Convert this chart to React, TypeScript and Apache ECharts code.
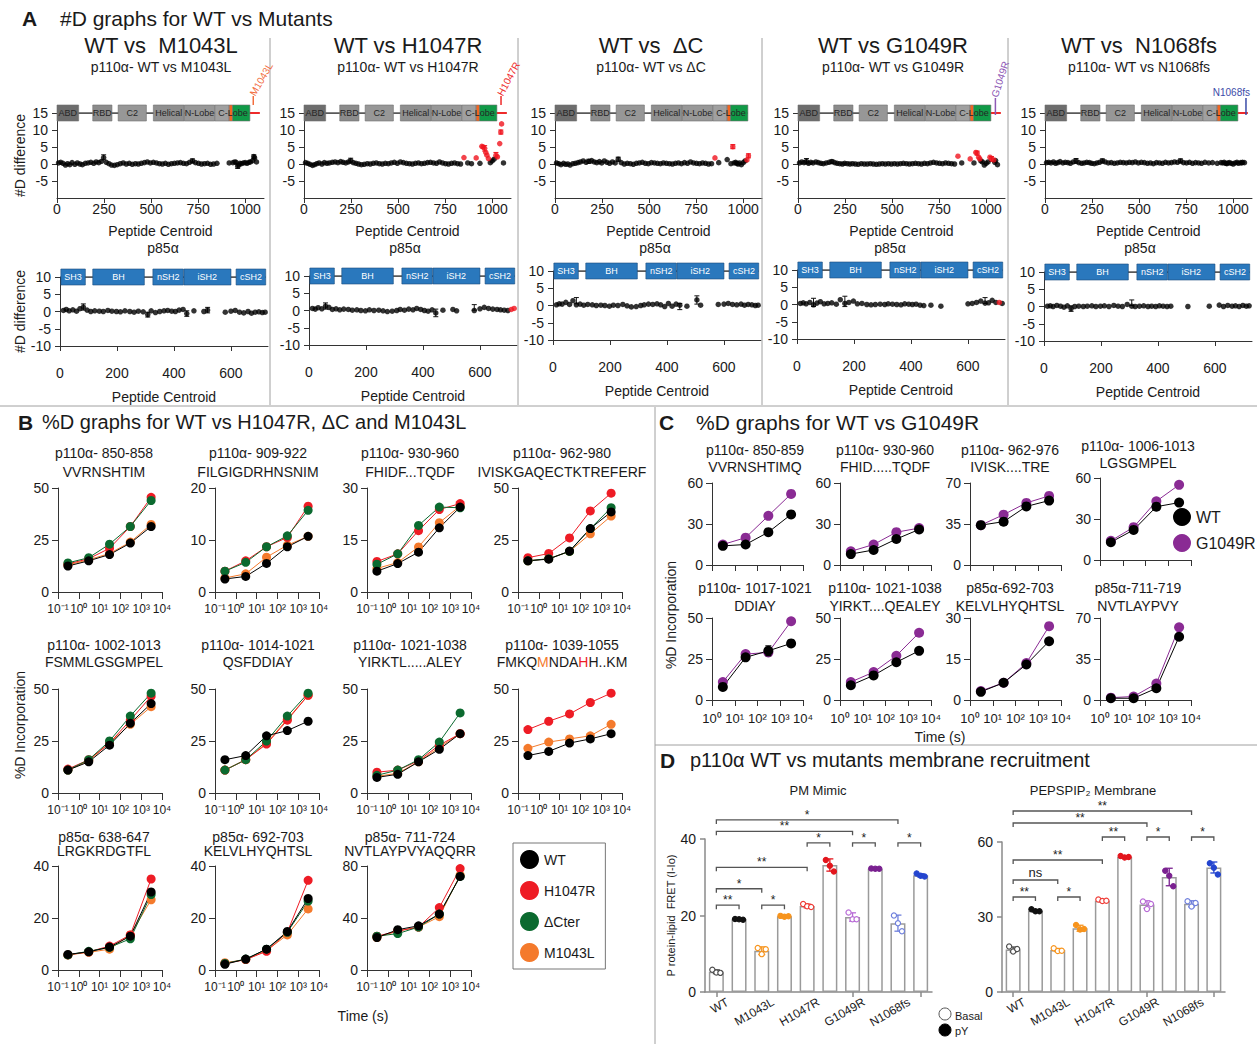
import React, { useEffect, useRef } from "react";
import * as echarts from "echarts";

const FF = "'Liberation Sans', Arial, Helvetica, sans-serif";
const fnt = (size: number, weight: string = "normal") => `${weight} ${size}px ${FF}`;

/* ============================ PANEL A DATA ============================ */
const p110TickValues = [0, 250, 500, 750, 1000];
const p110DiffTicks = [15, 10, 5, 0, -5];
const p85TickValues = [0, 200, 400, 600];
const p85DiffTicks = [10, 5, 0, -5, -10];

const p110Centroids = [
  8, 20, 32, 45, 56, 68, 80, 95, 108, 122,
  135, 150, 165, 180, 195, 208, 222, 236, 248, 262,
  276, 290, 305, 320, 336, 352, 368, 384, 400, 416,
  432, 448, 464, 480, 496, 512, 528, 544, 560, 576,
  592, 608, 624, 640, 656, 672, 688, 704, 720, 736,
  752, 768, 784, 800, 816, 832, 850, 870, 890, 915,
  935, 945, 952, 960, 966, 972, 980, 990, 1000, 1010,
  1020, 1028, 1040, 1046, 1050, 1060,
];
const p110DiffM1043L = [
  0.3, 0.5, 0.2, -0.3, 0.1, -0.2, 0.4, -0.1, 0.3, 0.0,
  -0.2, 0.2, 0.3, 0.5, 0.2, 0.6, 0.4, 0.8, 1.9, 0.5,
  0.1, -0.3, -0.4, -0.2, 0.1, 0.3, 0.0, 0.2, -0.1, 0.1,
  0.0, 0.2, 0.4, 0.6, 0.3, 0.5, 0.3, 0.1, 0.0, 0.2,
  -0.1, 0.1, 0.2, 0.3, 0.4, 0.2, 0.1, 0.5, 0.9, 0.4,
  0.2, 0.0, 0.1, 0.2, -0.1, 0.0, 0.2, null, null, 0.3,
  0.4, 0.6, 0.5, -0.6, -0.3, 0.2, 0.1, 0.3, 0.4, 0.2,
  0.5, 0.6, 1.0, 2.2, 1.8, 0.6,
];
const p110DiffH1047R = [
  0.4, 0.2, -0.1, -0.4, -0.2, 0.1, 0.3, 0.0, 0.4, 0.2,
  0.3, 0.5, 0.6, 0.4, 0.7, 0.5, 0.3, 0.6, 1.0, 0.4,
  0.2, 0.0, -0.2, -0.1, 0.1, 0.0, 0.2, 0.3, 0.1, 0.0,
  0.2, 0.1, 0.3, 0.5, 0.2, 0.6, 0.4, 0.2, 0.1, 0.0,
  0.2, 0.3, 0.1, 0.2, 0.4, 0.5, 0.3, 0.2, 0.6, 0.3,
  0.1, 0.0, 0.2, 0.3, 0.1, 0.0, 1.9, 0.3, 0.1, 1.8,
  0.2, 5.2, 5.0, 4.6, 3.4, 2.6, 1.6, 0.4, 0.9, 1.4,
  2.6, 2.1, 6.0, 9.4, 11.8, 0.3,
];
const p110DiffDeltaC = [
  0.3, 0.1, -0.2, 0.2, -0.1, 0.0, -0.3, 0.1, 0.2, 0.4,
  0.6, 0.9, 0.5, 0.8, 1.0, 0.6, 0.4, 0.7, 0.3, 0.9,
  0.5, 0.2, 0.6, 0.3, 1.4, 0.4, 0.0, 0.2, 0.1, -0.1,
  0.2, 0.3, 0.5, 0.2, 0.1, 0.4, 0.3, 0.2, 0.1, 0.3,
  0.2, 0.1, 0.0, 0.2, 0.3, 0.1, 0.4, 0.2, 0.6, 0.3,
  0.2, 0.1, 0.3, 0.2, 0.0, 0.1, 1.8, 0.4, null, 1.3,
  0.1, 5.1, 0.3, 0.5, 0.2, 0.0, 0.3, -0.2, 0.4, 0.9,
  1.2, 2.4, null, null, null, null,
];
const p110DiffG1049R = [
  0.3, 0.6, 0.4, 0.8, 0.2, 0.5, 0.3, 0.6, 0.4, 0.2,
  0.1, 0.3, 0.5, 0.7, 0.4, 0.2, 0.1, 0.0, 0.2, 0.1,
  0.0, 0.1, 0.0, -0.1, 0.1, 0.0, 0.0, 0.1, 0.0, -0.1,
  0.0, 0.1, 0.0, 0.1, 0.0, 0.1, 0.0, 0.1, 0.2, 0.1,
  0.0, 0.1, 0.2, 0.1, 0.0, 0.2, 0.1, 0.3, 0.5, 0.3,
  0.2, 0.1, 0.3, 0.2, 0.1, 0.0, 2.3, 0.3, null, 1.5,
  0.3, 3.4, 3.2, 2.0, 1.5, 0.9, 0.6, -0.3, 0.2, 0.6,
  2.0, 1.5, 1.2, 0.5, 1.0, -0.2,
];
const p110DiffN1068fs = [
  0.4, 0.5, 0.3, 0.6, 0.2, 0.4, 0.7, 0.3, 0.5, 0.4,
  0.2, 0.6, 0.9, 0.4, 0.2, 0.3, 0.5, 0.4, 0.2, 0.1,
  0.3, 0.5, 0.9, 0.6, 0.3, 0.4, 0.2, 0.3, 0.5, 0.4,
  0.3, 0.5, 0.4, 0.6, 0.3, 0.5, 0.4, 0.2, 0.3, 0.1,
  0.4, 0.3, 0.2, 0.5, 0.3, 0.4, 0.6, 0.5, 0.9, 0.4,
  0.3, 0.5, 0.2, 0.4, 0.3, 0.2, 0.5, 0.3, 0.4, 0.2,
  0.4, 0.3, 0.5, 0.2, 0.1, 0.3, 0.4, 0.2, 0.0, 0.3,
  0.5, 0.2, 0.4, 0.3, 0.5, 0.4,
];
const p110SigM1043L: number[] = [];
const p110SigH1047R = [850, 915, 945, 952, 960, 966, 972, 980, 1020, 1028, 1040, 1046, 1050];
const p110SigDeltaC = [850, 945, 1020, 1028];
const p110SigG1049R = [850, 915, 945, 952, 960, 966, 1020, 1028, 1040];
const p110SigN1068fs: number[] = [];

const p110ErrM1043L = [[248, 1.2, 2.7], [720, 0.3, 1.5], [960, -1.3, 0.1], [1046, 1.7, 2.7]];
const p110ErrH1047R = [[248, 0.3, 1.7], [960, 3.8, 5.4], [1020, 1.8, 3.4], [1046, 8.8, 10.0]];
const p110ErrDeltaC = [[180, 0.2, 1.4], [336, 0.8, 2.0], [945, 4.5, 5.7], [1028, 1.8, 3.0]];
const p110ErrG1049R = [[45, 0.0, 1.6], [180, 0.2, 1.2], [952, 2.6, 3.8], [1028, 0.8, 2.2]];
const p110ErrN1068fs = [[165, 0.2, 1.6], [305, 0.3, 1.5], [720, 0.3, 1.5]];

const p85Centroids = [
  12, 22, 32, 45, 58, 70, 82, 95, 108, 122,
  138, 152, 168, 182, 198, 212, 228, 245, 260, 275,
  292, 308, 320, 335, 350, 365, 378, 392, 405, 418,
  432, 445, 470, 505, 518, 580, 600, 615, 630, 645,
  660, 672, 685, 698, 710, 720,
];
const p85DiffM1043L = [
  0.3, 0.6, 0.2, 0.5, 0.1, 0.8, 1.3, 0.4, 0.0, 0.2,
  0.1, 0.0, 0.3, 0.1, 0.0, -0.1, 0.2, 0.0, -0.2, 0.1,
  -0.1, -0.9, 0.2, -0.3, 0.0, 0.2, 0.3, 0.1, 0.0, 0.4,
  0.6, -0.6, 0.2, 0.0, 0.4, -0.2, 0.1, 0.3, -0.2, -0.4,
  0.0, -0.5, -0.2, -0.1, -0.3, -0.2,
];
const p85DiffH1047R = [
  0.6, 0.4, 0.8, 0.5, 1.3, 0.9, 0.3, 0.5, 0.2, 0.4,
  0.3, 0.1, 0.2, 0.0, -0.1, 0.2, 0.0, 0.1, -0.1, -0.3,
  -0.2, 0.0, 0.3, 0.1, 0.4, 0.2, 0.6, 0.3, 0.0, -0.2,
  0.2, -0.7, 0.1, 0.3, -0.1, 0.0, 0.5, 0.9, 0.6, 0.4,
  0.3, 0.2, 0.1, 0.0, 0.3, 0.6,
];
const p85DiffDeltaC = [
  0.2, 0.5, 0.4, 0.9, 0.3, 1.4, 0.2, 0.4, 0.1, 0.3,
  0.2, 0.0, 0.1, 0.0, -0.2, 0.1, 0.0, 0.3, -0.1, -0.4,
  -0.3, 0.0, 0.2, 0.4, 0.3, 0.5, 0.2, -0.3, 0.6, -0.2,
  0.4, 0.1, -0.2, 1.6, 0.1, 0.3, 0.4, 0.6, 0.3, 0.2,
  0.4, 0.1, 0.3, 0.2, 0.0, 0.1,
];
const p85DiffG1049R = [
  0.3, 0.5, 0.2, 0.6, -0.1, 0.4, 0.8, 0.2, 0.3, 0.5,
  0.1, 1.4, 0.3, 0.6, 1.0, 0.2, 0.3, 0.0, -0.1, 0.0,
  0.1, 0.0, 0.2, 0.1, 0.0, -0.1, 0.2, 0.1, 0.0, 0.1,
  -0.2, -0.3, -0.2, -0.5, null, null, 0.2, 0.3, 0.6, 1.0,
  0.4, 0.5, 1.2, 0.6, 0.6, 0.3,
];
const p85DiffN1068fs = [
  0.1, 0.2, 0.0, 0.3, 0.1, -0.2, 0.2, -0.6, 0.0, 0.1,
  0.0, 0.1, 0.2, 0.0, 0.1, 0.2, 0.0, 0.3, 0.1, 0.0,
  0.6, 0.1, 0.0, 0.1, 0.2, 0.0, 0.1, 0.0, 0.2, 0.1,
  0.0, 0.1, null, 0.0, null, 0.1, null, 0.4, 0.0, 0.3,
  0.1, 0.2, 0.0, 0.3, 0.1, 0.2,
];
const p85SigM1043L: number[] = [];
const p85SigH1047R = [710, 720];
const p85SigDeltaC: number[] = [];
const p85SigG1049R = [710];
const p85SigN1068fs: number[] = [];

const p85ErrM1043L = [[82, 0.4, 2.2], [308, -1.6, -0.2], [445, -1.4, 0.2], [518, -0.4, 1.2]];
const p85ErrH1047R = [[58, 0.4, 2.2], [445, -1.8, 0.4], [580, 0.1, 1.7]];
const p85ErrDeltaC = [[82, 0.5, 2.3], [505, 0.4, 2.8], [445, -1.2, 0.6]];
const p85ErrG1049R = [[58, -0.6, 1.8], [168, -0.6, 2.4], [660, 0.3, 2.0]];
const p85ErrN1068fs = [[95, -1.4, 0.2], [308, 0.3, 1.9]];

// domain maps (residue coordinates)
const P110_LEVEL = 15;
const P85_LEVEL = 10;
const p110Backbone = [0, 1025];
const p110Tail = [1025, 1078];
const p85Backbone = [3, 722];
const p110Boxes = [
  { start: 0, end: 115, color: "#6d6d6d" },
  { start: 190, end: 292, color: "#8b8b8b" },
  { start: 325, end: 475, color: "#979797" },
  { start: 512, end: 676, color: "#8f8f8f" },
  { start: 677, end: 838, color: "#989898" },
  { start: 839, end: 915, color: "#a0a0a0" },
  { start: 915, end: 933, color: "#f26522" },
  { start: 933, end: 1025, color: "#109a47" },
];
const p110BoxLabels = [
  { text: "ABD", pos: 57 },
  { text: "RBD", pos: 241 },
  { text: "C2", pos: 400 },
  { text: "Helical", pos: 594 },
  { text: "N-Lobe", pos: 757 },
  { text: "C-Lobe", pos: 935 },
];
const p85Boxes = [
  { start: 3, end: 89 },
  { start: 115, end: 296 },
  { start: 326, end: 433 },
  { start: 435, end: 600 },
  { start: 618, end: 722 },
];
const p85BoxLabels = [
  { text: "SH3", pos: 46 },
  { text: "BH", pos: 205 },
  { text: "nSH2", pos: 380 },
  { text: "iSH2", pos: 517 },
  { text: "cSH2", pos: 670 },
];

const aTitles = ["WT vs  M1043L", "WT vs H1047R", "WT vs  ΔC", "WT vs G1049R", "WT vs  N1068fs"];
const aSubtitles = ["p110α- WT vs M1043L", "p110α- WT vs H1047R", "p110α- WT vs ΔC", "p110α- WT vs G1049R", "p110α- WT vs N1068fs"];
const aMutations = [
  { label: "M1043L", pos: 1043 },
  { label: "H1047R", pos: 1047 },
  null,
  { label: "G1049R", pos: 1049 },
  { label: "N1068fs", pos: 1068 },
];
const aP110 = [p110DiffM1043L, p110DiffH1047R, p110DiffDeltaC, p110DiffG1049R, p110DiffN1068fs];
const aP110Sig = [p110SigM1043L, p110SigH1047R, p110SigDeltaC, p110SigG1049R, p110SigN1068fs];
const aP110Err = [p110ErrM1043L, p110ErrH1047R, p110ErrDeltaC, p110ErrG1049R, p110ErrN1068fs];
const aP85 = [p85DiffM1043L, p85DiffH1047R, p85DiffDeltaC, p85DiffG1049R, p85DiffN1068fs];
const aP85Sig = [p85SigM1043L, p85SigH1047R, p85SigDeltaC, p85SigG1049R, p85SigN1068fs];
const aP85Err = [p85ErrM1043L, p85ErrH1047R, p85ErrDeltaC, p85ErrG1049R, p85ErrN1068fs];
const aHasTail = [true, true, false, true, true];

/* ============================ PANEL B DATA ============================ */
const bTimes = [0.3, 3, 30, 300, 3000];
const bTickValues = [0.1, 1, 10, 100, 1000, 10000];
const bP850 = { title: "p110α- 850-858", seq: "VVRNSHTIM", yMax: 50, WT: [12.5, 15, 18, 23.5, 31.5], H1047R: [13.5, 16, 21, 31.5, 45.5], dCter: [14, 16.5, 23, 31.5, 44], M1043L: [13, 15.5, 18.5, 24, 32.5] };
const bP909 = { title: "p110α- 909-922", seq: "FILGIGDRHNSNIM", yMax: 20, WT: [2.5, 3, 5.5, 8.7, 10.7], H1047R: [4, 6, 8.7, 10.5, 16.5], dCter: [4, 5.7, 8.7, 10.8, 15.7], M1043L: [2.7, 3.5, 6.7, 9, 10.7] };
const bP930 = { title: "p110α- 930-960", seq: "FHIDF...TQDF", yMax: 30, WT: [6, 8.2, 11.5, 18.5, 24.5], H1047R: [8.8, 11, 17.7, 23.8, 25.5], dCter: [8, 11, 19.2, 24.5, 24.3], M1043L: [6.8, 8.5, 13, 20, 24.8] };
const bP962 = { title: "p110α- 962-980", seq: "IVISKGAQECTKTREFERF", yMax: 50, WT: [15, 15.8, 19.7, 30.5, 38.5], H1047R: [16.5, 18.5, 26, 39, 47.5], dCter: [15, 16, 19.5, 30.5, 40.5], M1043L: [15, 16, 19.5, 28, 36.5] };
const bP1002 = { title: "p110α- 1002-1013", seq: "FSMMLGSGMPEL", yMax: 50, WT: [11, 15, 23, 33.5, 43], H1047R: [11.5, 16, 24, 35, 46.5], dCter: [11, 16, 25, 37, 48], M1043L: [11, 15.5, 24, 33, 41.5] };
const bP1014 = { title: "p110α- 1014-1021", seq: "QSFDDIAY", yMax: 50, WT: [16, 18, 27.5, 30, 34.5], H1047R: [11, 16, 23.5, 35, 47], dCter: [11, 16, 25, 37, 48], M1043L: [11, 16, 24, 35.5, 47] };
const bP1021 = { title: "p110α- 1021-1038", seq: "YIRKTL.....ALEY", yMax: 50, WT: [7.5, 9, 15, 21, 28.5], H1047R: [10, 11, 15.5, 23, 28.5], dCter: [8.5, 11, 16, 24.5, 38.5], M1043L: [8, 9.5, 15, 22, 28.5] };
const bP1039 = { title: "p110α- 1039-1055", seq: "{n|FMKQ}{o|M}{n|NDA}{r|H}{n|H..KM}", yMax: 50, WT: [18, 20, 24, 26, 28.5], H1047R: [30.5, 34.5, 38, 43.5, 48], dCter: null, M1043L: [21.5, 24.5, 26, 27.5, 33] };
const bP638 = { title: "p85α- 638-647", seq: "LRGKRDGTFL", yMax: 40, WT: [6, 7, 8.8, 13, 30], H1047R: [5.8, 7, 9.2, 13.5, 35], dCter: [5.8, 7.2, 8.7, 12, 29], M1043L: [5.8, 6.8, 8, 13.5, 27] };
const bP692 = { title: "p85α- 692-703", seq: "KELVLHYQHTSL", yMax: 40, WT: [2.2, 4.2, 8, 14.8, 27.5], H1047R: [2.5, 4, 7.2, 14.5, 34.5], dCter: [2.5, 4.2, 8, 14.5, 26.5], M1043L: [2.8, 4, 7.5, 13.5, 23.5] };
const bP711 = { title: "p85α- 711-724", seq: "NVTLAYPVYAQQRR", yMax: 80, WT: [25, 31, 34, 43, 72], H1047R: [26, 30, 33, 48, 78], dCter: [26, 28, 33, 43, 72], M1043L: [25, 30, 33, 41, 73] };
const bPanels = [[bP850, bP909, bP930, bP962], [bP1002, bP1014, bP1021, bP1039], [bP638, bP692, bP711]];

/* ============================ PANEL C DATA ============================ */
const cTimes = [3, 30, 300, 3000];
const cTickValues = [1, 10, 100, 1000, 10000];
const cP850 = { title: "p110α- 850-859", seq: "VVRNSHTIMQ", yMax: 60, WT: [14, 15, 24, 37], G1049R: [15, 20, 36, 52] };
const cP930 = { title: "p110α- 930-960", seq: "FHID.....TQDF", yMax: 60, WT: [8, 11, 19, 26], G1049R: [10, 15, 24, 27] };
const cP962 = { title: "p110α- 962-976", seq: "IVISK....TRE", yMax: 70, WT: [34, 37, 50, 55], G1049R: [34, 43, 53, 59] };
const cP1006 = { title: "p110α- 1006-1013", seq: "LGSGMPEL", yMax: 60, WT: [13, 22, 39, 42], G1049R: [14, 24, 43, 55] };
const cP1017 = { title: "p110α- 1017-1021", seq: "DDIAY", yMax: 50, WT: [8, 26, 30, 34.5], G1049R: [11, 28, 29, 48] };
const cP1021 = { title: "p110α- 1021-1038", seq: "YIRKT....QEALEY", yMax: 50, WT: [9, 15, 23, 30], G1049R: [11, 17, 27, 41] };
const cP692 = { title: "p85α-692-703", seq: "KELVLHYQHTSL", yMax: 30, WT: [3, 6.3, 13, 21.5], G1049R: [3.3, 6.3, 13.5, 27] };
const cP711 = { title: "p85α-711-719", seq: "NVTLAYPVY", yMax: 70, WT: [1.5, 1.5, 10, 54], G1049R: [2, 3, 14, 62] };
const cPanels = [[cP850, cP930, cP962, cP1006], [cP1017, cP1021, cP692, cP711]];
const cErrWT1017 = [[300, 27, 33]];

/* ============================ PANEL D DATA ============================ */
const dGroups = ["WT", "M1043L", "H1047R", "G1049R", "N1068fs"];
const dConditions = ["Basal", "pY"];
const pmMimicMean = [5.3, 19.0, 10.8, 19.8, 22.5, 33.2, 19.6, 32.2, 18.0, 30.5];
const pmMimicSD = [0.5, 0.2, 1.0, 0.2, 0.5, 1.6, 1.1, 0.2, 2.1, 0.4];
const pmMimicReps = [[5.8, 5.1, 5.0], [19.1, 19.0, 18.9], [11.5, 9.9, 11.2], [19.9, 19.7, 19.8], [23.0, 22.4, 22.2], [34.5, 33.0, 31.5], [20.8, 19.0, 19.0], [32.3, 32.2, 32.2], [20.0, 18.0, 15.9], [31.0, 30.4, 30.2]];
const pmMimicBrackets = [
  { from: 0, to: 1, y: 22.7, label: "**" },
  { from: 0, to: 2, y: 27, label: "*" },
  { from: 2, to: 3, y: 22.7, label: "*" },
  { from: 0, to: 4, y: 32.6, label: "**" },
  { from: 4, to: 5, y: 39, label: "*" },
  { from: 0, to: 6, y: 42, label: "**" },
  { from: 6, to: 7, y: 39, label: "*" },
  { from: 8, to: 9, y: 39, label: "*" },
  { from: 0, to: 8, y: 45, label: "*" },
];
const pepMean = [17.0, 32.5, 16.8, 25.5, 36.5, 54.0, 35.0, 46.0, 35.3, 49.8];
const pepSD = [1.0, 0.4, 0.6, 1.2, 0.4, 0.4, 1.5, 3.5, 1.2, 2.2];
const pepReps = [[18.2, 16.2, 17.2], [33.1, 32.3, 32.3], [17.5, 16.4, 16.5], [26.8, 25.0, 25.2], [37.0, 36.4, 36.5], [54.4, 53.8, 54.0], [36.2, 33.2, 35.2], [48.5, 46.5, 42.3], [36.3, 34.2, 35.6], [51.5, 49.7, 47.0]];
const pepBrackets = [
  { from: 0, to: 1, y: 38, label: "**" },
  { from: 0, to: 2, y: 44.8, label: "ns" },
  { from: 2, to: 3, y: 38, label: "*" },
  { from: 0, to: 4, y: 52.8, label: "**" },
  { from: 4, to: 5, y: 62, label: "**" },
  { from: 6, to: 7, y: 62, label: "*" },
  { from: 8, to: 9, y: 62, label: "*" },
  { from: 0, to: 6, y: 67.6, label: "**" },
  { from: 0, to: 8, y: 72.4, label: "**" },
];

/* ============================ STYLES / LAYOUT ============================ */
const COL_WT = "#000000";
const COL_H1047R = "#ee1c25";
const COL_DCTER = "#0b6a2f";
const COL_M1043L = "#f47a2c";
const COL_G1049R = "#8a2b94";
const D_BASAL_COLORS = ["#4d4d4d", "#f7941d", "#ef3b36", "#b86bd6", "#6e7fdc"];
const D_PY_COLORS = ["#111111", "#f7941d", "#e3161d", "#7a2190", "#2445cf"];
const A_MUT_STYLE = [
  { color: "#f26d3d", rotate: 60, tick: [-8, -17] },
  { color: "#ee2a2a", rotate: 62, tick: [-8, -17] },
  null,
  { color: "#8e59b5", rotate: 72, tick: [2, -15] },
  { color: "#3b4ba8", rotate: 0, tick: [2, -15] },
];

const A_TOP_LEFT = [57, 304, 555, 798, 1045];
const A_TOP_Y = 113;
const A_TOP_H = 85;
const A_TOP_W = 207;
const A_BOT_LEFT = [60, 309, 553, 797, 1044];
const A_BOT_TOP = [277, 276, 271, 270, 272];
const A_BOT_H = 69;
const A_BOT_W = 208;
const A_TITLE_X = [161, 408, 651, 893, 1139];
const A_P85_X = [163, 405, 655, 890, 1140];

const B_LEFT = [58, 215, 367, 518];
const B_TOP = [488, 689, 866];
const B_PLOT_H = 104;
const B_PLOT_W = 104;
const B_TITLE_X = [104, 258, 410, 562];
const B_TITLE_Y = [[453, 472], [645, 662], [837, 851]];

const C_LEFT = [712, 840, 970, 1100];
const C_TOP = [[483, 483, 483, 478], [618, 618, 618, 618]];
const C_PLOT_H = 82;
const C_PLOT_W = 91;
const C_TITLE_X = [755, 885, 1010, 1138];
const C_TITLE_Y = [[450, 467], [588, 606]];

/* ============================ HELPERS ============================ */
const SUP: Record<string, string> = { "-": "⁻", "0": "⁰", "1": "¹", "2": "²", "3": "³", "4": "⁴", "5": "⁵" };
const logLabel = (v: number) => {
  const e = Math.round(Math.log10(v));
  return "10" + String(e).split("").map((c) => SUP[c] || c).join("");
};
const plainLabel = (v: number) => String(v);

function makeAxis(gridIndex: number, o: any) {
  const ax: any = {
    type: o.type || "value",
    gridIndex,
    position: o.position,
    name: o.name || "",
    nameLocation: "middle",
    nameGap: o.nameGap ?? 20,
    nameTextStyle: { fontFamily: FF, fontSize: o.nameSize || 14, color: "#1a1a1a" },
    axisLine: { show: o.showLine !== false, onZero: false, lineStyle: { color: o.lineColor || "#333", width: o.lineWidth || 1 } },
    axisTick: { show: o.showTick !== false, length: o.tickLen ?? 5, alignWithLabel: true, lineStyle: { color: o.lineColor || "#333", width: o.lineWidth || 1 } },
    axisLabel: { show: o.showLabels !== false, margin: o.labelMargin ?? 8, fontSize: o.labelSize ?? 14, fontFamily: FF, color: "#1a1a1a", hideOverlap: false, rotate: o.rotate || 0, showMinLabel: true, showMaxLabel: true },
    splitLine: { show: false },
  };
  if (o.nameRotate !== undefined) ax.nameRotate = o.nameRotate;
  if (o.min !== undefined) ax.min = o.min;
  if (o.max !== undefined) ax.max = o.max;
  if (o.interval !== undefined) ax.interval = o.interval;
  if (o.splitNumber !== undefined) ax.splitNumber = o.splitNumber;
  if (o.type === "log") ax.logBase = 10;
  if (o.data) ax.data = o.data;
  if (o.ticks) {
    ax.axisTick.customValues = o.ticks;
    ax.axisLabel.customValues = o.ticks;
  }
  if (o.formatter) ax.axisLabel.formatter = o.formatter;
  return ax;
}

function errorBarSeries(xi: number, yi: number, data: number[][], colorOf: (i: number) => string, cap = 6, lw = 1) {
  return {
    type: "custom", xAxisIndex: xi, yAxisIndex: yi, data, silent: true, z: 5, clip: false,
    renderItem: (params: any, api: any) => {
      const x = api.value(0);
      const p1 = api.coord([x, api.value(1)]);
      const p2 = api.coord([x, api.value(2)]);
      const st = { stroke: colorOf(params.dataIndex), lineWidth: lw };
      return {
        type: "group",
        children: [
          { type: "line", shape: { x1: p1[0], y1: p1[1], x2: p2[0], y2: p2[1] }, style: st },
          { type: "line", shape: { x1: p1[0] - cap / 2, y1: p1[1], x2: p1[0] + cap / 2, y2: p1[1] }, style: st },
          { type: "line", shape: { x1: p2[0] - cap / 2, y1: p2[1], x2: p2[0] + cap / 2, y2: p2[1] }, style: st },
        ],
      };
    },
  };
}

function boxSeries(xi: number, yi: number, boxes: any[], level: number, fillOf: (i: number) => string, stroke: string) {
  return {
    type: "custom", xAxisIndex: xi, yAxisIndex: yi, silent: true, z: 3, clip: false,
    data: boxes.map((b) => [b.start, level, b.end]),
    renderItem: (params: any, api: any) => {
      const s = api.coord([api.value(0), api.value(1)]);
      const e = api.coord([api.value(2), api.value(1)]);
      return {
        type: "rect",
        shape: { x: s[0], y: s[1] - 8, width: e[0] - s[0], height: 16 },
        style: { fill: fillOf(params.dataIndex), stroke, lineWidth: 0.6 },
      };
    },
  };
}

function boxLabelSeries(xi: number, yi: number, labels: any[], level: number, color: string, size: number) {
  return {
    type: "custom", xAxisIndex: xi, yAxisIndex: yi, silent: true, z: 4, clip: false,
    data: labels.map((l) => [l.pos, level]),
    renderItem: (params: any, api: any) => {
      const p = api.coord([api.value(0), api.value(1)]);
      return {
        type: "text", x: p[0], y: p[1],
        style: { text: labels[params.dataIndex].text, fill: color, font: fnt(size), textAlign: "center", textVerticalAlign: "middle", align: "center", verticalAlign: "middle" },
      };
    },
  };
}

function mutationSeries(xi: number, yi: number, mut: any, st: any, level: number) {
  return {
    type: "custom", xAxisIndex: xi, yAxisIndex: yi, silent: true, z: 6, clip: false,
    data: [[mut.pos, level]],
    renderItem: (params: any, api: any) => {
      const p = api.coord([api.value(0), api.value(1)]);
      const y1 = p[1] + st.tick[0];
      const y2 = p[1] + st.tick[1];
      const children: any[] = [
        { type: "line", shape: { x1: p[0], y1, x2: p[0], y2 }, style: { stroke: st.color, lineWidth: 1.5 } },
      ];
      if (st.rotate) {
        children.push({
          type: "text", x: p[0] - 1, y: y2 - 1, rotation: (st.rotate * Math.PI) / 180,
          style: { text: mut.label, fill: st.color, font: fnt(10), textAlign: "left", textVerticalAlign: "middle", align: "left", verticalAlign: "middle" },
        });
      } else {
        children.push({
          type: "text", x: p[0] + 4, y: y2 - 1,
          style: { text: mut.label, fill: st.color, font: fnt(10), textAlign: "right", textVerticalAlign: "bottom", align: "right", verticalAlign: "bottom" },
        });
      }
      return { type: "group", children };
    },
  };
}

function lineSeg(xi: number, yi: number, range: number[], level: number, color: string, width: number) {
  return {
    type: "line", xAxisIndex: xi, yAxisIndex: yi, silent: true, z: 2, showSymbol: false, symbol: "none",
    data: [[range[0], level], [range[1], level]],
    lineStyle: { color, width },
  };
}

function pointsOf(xs: number[], ys: (number | null)[], sig: number[], wantSig: boolean) {
  const out: number[][] = [];
  xs.forEach((x, i) => {
    const y = ys[i];
    if (y === null || y === undefined) return;
    if (sig.includes(x) !== wantSig) return;
    out.push([x, y]);
  });
  return out;
}

function kineticSeries(xi: number, yi: number, name: string, times: number[], values: number[], color: string, size: number) {
  return {
    type: "line", name, xAxisIndex: xi, yAxisIndex: yi,
    data: times.map((t, k) => [t, values[k]]),
    symbol: "circle", symbolSize: size, showSymbol: true, z: 4,
    lineStyle: { color, width: 1 }, itemStyle: { color },
    emphasis: { disabled: true },
  };
}

function bracketSeries(xi: number, yi: number, brackets: any[]) {
  return {
    type: "custom", xAxisIndex: xi, yAxisIndex: yi, silent: true, z: 7, clip: false,
    data: brackets.map((b) => [b.from, b.y, b.to]),
    renderItem: (params: any, api: any) => {
      const b = brackets[params.dataIndex];
      const p1 = api.coord([api.value(0), api.value(1)]);
      const p2 = api.coord([api.value(2), api.value(1)]);
      const y = p1[1];
      return {
        type: "group",
        children: [
          { type: "polyline", shape: { points: [[p1[0], y + 4], [p1[0], y], [p2[0], y], [p2[0], y + 4]] }, style: { stroke: "#555", lineWidth: 1.3, fill: null } },
          {
            type: "text", x: (p1[0] + p2[0]) / 2, y: b.label === "ns" ? y - 1 : y + 1,
            style: { text: b.label, fill: "#222", font: fnt(b.label === "ns" ? 13 : 12), textAlign: "center", textVerticalAlign: "bottom", align: "center", verticalAlign: "bottom" },
          },
        ],
      };
    },
  };
}

function replicateSeries(xi: number, yi: number, reps: number[][]) {
  const data: number[][] = [];
  reps.forEach((r, ci) => r.forEach((v, k) => data.push([ci, v, k])));
  return {
    type: "custom", xAxisIndex: xi, yAxisIndex: yi, silent: true, z: 6, clip: false, data,
    renderItem: (params: any, api: any) => {
      const ci = api.value(0);
      const k = api.value(2);
      const p = api.coord([ci, api.value(1)]);
      const g = Math.floor(ci / 2);
      const basal = ci % 2 === 0;
      const color = basal ? D_BASAL_COLORS[g] : D_PY_COLORS[g];
      return {
        type: "circle",
        shape: { cx: p[0] + (k - 1) * 4, cy: p[1], r: 2.6 },
        style: { fill: basal ? "#fff" : color, stroke: color, lineWidth: 1.2 },
      };
    },
  };
}

const gText = (x: number, y: number, text: string, size: number, o: any = {}) => {
  const style: any = {
    text, font: fnt(size, o.weight || "normal"), fill: o.color || "#1a1a1a",
    textAlign: o.align || "center", textVerticalAlign: "middle", align: o.align || "center", verticalAlign: "middle",
  };
  if (o.rich) style.rich = o.rich;
  return { type: "text", x, y, rotation: o.rotation || 0, silent: true, z: 50, style };
};
const gLine = (x1: number, y1: number, x2: number, y2: number) => ({
  type: "line", silent: true, z: 1, shape: { x1, y1, x2, y2 }, style: { stroke: "#a0a0a0", lineWidth: 1 },
});

/* ============================ OPTION ============================ */
function buildOption() {
  const grid: any[] = [];
  const xAxis: any[] = [];
  const yAxis: any[] = [];
  const series: any[] = [];
  const graphic: any[] = [];

  const addGrid = (left: number, top: number, width: number, height: number) => {
    grid.push({ left, top, width, height, show: false, containLabel: false, outerBoundsMode: "none" });
    return grid.length - 1;
  };

  /* ---------- Panel A ---------- */
  graphic.push(gText(22, 18, "A", 21, { weight: "bold", align: "left" }));
  graphic.push(gText(60, 18, "#D graphs for WT vs Mutants", 21, { align: "left" }));
  [270, 518, 762, 1008].forEach((x) => graphic.push(gLine(x, 38, x, 405)));
  graphic.push(gLine(0, 406, 1257, 406));

  for (let c = 0; c < 5; c++) {
    graphic.push(gText(A_TITLE_X[c], 45, aTitles[c], 22));
    graphic.push(gText(A_TITLE_X[c], 67, aSubtitles[c], 14));
    graphic.push(gText(A_P85_X[c], 248, "p85α", 14));

    // p110 top plot
    const gi = addGrid(A_TOP_LEFT[c], A_TOP_Y, A_TOP_W, A_TOP_H);
    xAxis.push(makeAxis(gi, { min: 0, max: 1100, ticks: p110TickValues, formatter: plainLabel, labelMargin: 4, name: "Peptide Centroid", nameGap: 26 }));
    yAxis.push(makeAxis(gi, { min: -10, max: 15, ticks: p110DiffTicks, formatter: plainLabel, labelMargin: 9, name: c === 0 ? "#D difference" : "", nameGap: 30, nameRotate: 90 }));
    let xi = xAxis.length - 1;
    let yi = yAxis.length - 1;
    series.push(lineSeg(xi, yi, p110Backbone, P110_LEVEL, "#222", 1.5));
    if (aHasTail[c]) series.push(lineSeg(xi, yi, p110Tail, P110_LEVEL, "#ee2a2a", 2));
    series.push(boxSeries(xi, yi, p110Boxes, P110_LEVEL, (i) => p110Boxes[i].color, "#707070"));
    series.push(boxLabelSeries(xi, yi, p110BoxLabels, P110_LEVEL, "#262626", 9));
    const mut = aMutations[c];
    const mst = A_MUT_STYLE[c];
    if (mut && mst) series.push(mutationSeries(xi, yi, mut, mst, P110_LEVEL));
    const errs = aP110Err[c];
    const sig = aP110Sig[c];
    series.push(errorBarSeries(xi, yi, errs, (i) => (sig.includes(errs[i][0]) ? "#f0141e" : "#111"), 5, 1));
    series.push({ type: "scatter", xAxisIndex: xi, yAxisIndex: yi, data: pointsOf(p110Centroids, aP110[c], sig, false), symbol: "circle", symbolSize: 5.5, itemStyle: { color: "#000" }, z: 6, silent: true });
    series.push({ type: "scatter", xAxisIndex: xi, yAxisIndex: yi, data: pointsOf(p110Centroids, aP110[c], sig, true), symbol: "circle", symbolSize: 5.5, itemStyle: { color: "#f0141e" }, z: 7, silent: true });

    // p85 bottom plot
    const gj = addGrid(A_BOT_LEFT[c], A_BOT_TOP[c], A_BOT_W, A_BOT_H);
    xAxis.push(makeAxis(gj, { min: 0, max: 730, ticks: p85TickValues, formatter: plainLabel, labelMargin: 20, name: "Peptide Centroid", nameGap: 44 }));
    yAxis.push(makeAxis(gj, { min: -10, max: 10, ticks: p85DiffTicks, formatter: plainLabel, labelMargin: 9, name: c === 0 ? "#D difference" : "", nameGap: 30, nameRotate: 90 }));
    xi = xAxis.length - 1;
    yi = yAxis.length - 1;
    series.push(lineSeg(xi, yi, p85Backbone, P85_LEVEL, "#222", 1.5));
    series.push(boxSeries(xi, yi, p85Boxes, P85_LEVEL, () => "#2a78bd", "#1b4c7c"));
    series.push(boxLabelSeries(xi, yi, p85BoxLabels, P85_LEVEL, "#ffffff", 9));
    const errs2 = aP85Err[c];
    const sig2 = aP85Sig[c];
    series.push(errorBarSeries(xi, yi, errs2, () => "#111", 5, 1));
    series.push({ type: "scatter", xAxisIndex: xi, yAxisIndex: yi, data: pointsOf(p85Centroids, aP85[c], sig2, false), symbol: "circle", symbolSize: 5.5, itemStyle: { color: "#000" }, z: 6, silent: true });
    series.push({ type: "scatter", xAxisIndex: xi, yAxisIndex: yi, data: pointsOf(p85Centroids, aP85[c], sig2, true), symbol: "circle", symbolSize: 5.5, itemStyle: { color: "#f0141e" }, z: 7, silent: true });
  }

  /* ---------- Panel B ---------- */
  graphic.push(gText(18, 422, "B", 21, { weight: "bold", align: "left" }));
  graphic.push(gText(42, 422, "%D graphs for WT vs H1047R, ΔC and M1043L", 20, { align: "left" }));
  graphic.push(gLine(655, 407, 655, 1044));
  graphic.push(gText(20, 725, "%D Incorporation", 14, { rotation: Math.PI / 2 }));
  graphic.push(gText(363, 1016, "Time (s)", 14));
  const seqRich = {
    n: { font: fnt(14), fill: "#1a1a1a" },
    o: { font: fnt(14), fill: "#f47a2c" },
    r: { font: fnt(14), fill: "#ee1c25" },
  };
  bPanels.forEach((row, r) => {
    row.forEach((pep: any, c) => {
      graphic.push(gText(B_TITLE_X[c], B_TITLE_Y[r][0], pep.title, 14));
      if (pep.seq.startsWith("{")) graphic.push(gText(B_TITLE_X[c], B_TITLE_Y[r][1], pep.seq, 14, { rich: seqRich }));
      else graphic.push(gText(B_TITLE_X[c], B_TITLE_Y[r][1], pep.seq, 14));
      const gi = addGrid(B_LEFT[c], B_TOP[r], B_PLOT_W, B_PLOT_H);
      xAxis.push(makeAxis(gi, { type: "log", min: 0.1, max: 10000, splitNumber: 5, ticks: bTickValues, formatter: logLabel, labelSize: 12, labelMargin: 11, tickLen: 7 }));
      yAxis.push(makeAxis(gi, { min: 0, max: pep.yMax, interval: pep.yMax / 2, labelMargin: 9, tickLen: 6 }));
      const xi = xAxis.length - 1;
      const yi = yAxis.length - 1;
      series.push(kineticSeries(xi, yi, "M1043L", bTimes, pep.M1043L, COL_M1043L, 9));
      series.push(kineticSeries(xi, yi, "H1047R", bTimes, pep.H1047R, COL_H1047R, 9));
      if (pep.dCter) series.push(kineticSeries(xi, yi, "ΔCter", bTimes, pep.dCter, COL_DCTER, 9));
      series.push(kineticSeries(xi, yi, "WT", bTimes, pep.WT, COL_WT, 9));
    });
  });

  /* ---------- Panel C ---------- */
  graphic.push(gText(659, 422, "C", 21, { weight: "bold", align: "left" }));
  graphic.push(gText(696, 422, "%D graphs for WT vs G1049R", 21, { align: "left" }));
  graphic.push(gLine(655, 745, 1257, 745));
  graphic.push(gText(671, 615, "%D Incorporation", 14, { rotation: Math.PI / 2 }));
  graphic.push(gText(940, 737, "Time (s)", 14));
  cPanels.forEach((row, r) => {
    row.forEach((pep: any, c) => {
      const ty = r === 0 && c === 3 ? [446, 463] : C_TITLE_Y[r];
      graphic.push(gText(C_TITLE_X[c], ty[0], pep.title, 14));
      graphic.push(gText(C_TITLE_X[c], ty[1], pep.seq, 14));
      const gi = addGrid(C_LEFT[c], C_TOP[r][c], C_PLOT_W, C_PLOT_H);
      xAxis.push(makeAxis(gi, { type: "log", min: 1, max: 10000, splitNumber: 4, ticks: cTickValues, formatter: logLabel, labelSize: 13, labelMargin: 12, tickLen: 6, showLabels: r === 1 }));
      yAxis.push(makeAxis(gi, { min: 0, max: pep.yMax, interval: pep.yMax / 2, labelMargin: 9, tickLen: 6 }));
      const xi = xAxis.length - 1;
      const yi = yAxis.length - 1;
      series.push(kineticSeries(xi, yi, "G1049R", cTimes, pep.G1049R, COL_G1049R, 10));
      series.push(kineticSeries(xi, yi, "WT", cTimes, pep.WT, COL_WT, 10));
      if (pep === cP1017) series.push(errorBarSeries(xi, yi, cErrWT1017, () => "#000", 6, 1.2));
    });
  });

  /* ---------- Panel D ---------- */
  graphic.push(gText(660, 760, "D", 21, { weight: "bold", align: "left" }));
  graphic.push(gText(690, 760, "p110α WT vs mutants membrane recruitment", 20, { align: "left" }));
  graphic.push(gText(818, 790, "PM Mimic", 13));
  graphic.push(gText(1093, 790, "PEPSPIP₂ Membrane", 13));
  graphic.push({ type: "circle", silent: true, z: 50, shape: { cx: 945, cy: 1014, r: 6 }, style: { fill: "#fff", stroke: "#555", lineWidth: 1 } });
  graphic.push({ type: "circle", silent: true, z: 50, shape: { cx: 945, cy: 1030, r: 6 }, style: { fill: "#000", stroke: "#000", lineWidth: 1 } });
  graphic.push(gText(955, 1016, "Basal", 11, { align: "left" }));
  graphic.push(gText(955, 1031, "pY", 11, { align: "left" }));

  const dBarCats = dGroups.flatMap((g) => dConditions.map((cnd) => `${g} ${cnd}`));
  const dPanels = [
    { left: 705, top: 839, width: 227, height: 153, max: 40, mean: pmMimicMean, sd: pmMimicSD, reps: pmMimicReps, brackets: pmMimicBrackets, yName: "P rotein-lipid  FRET (I-Io)" },
    { left: 1002, top: 842, width: 223, height: 150, max: 60, mean: pepMean, sd: pepSD, reps: pepReps, brackets: pepBrackets, yName: "" },
  ];
  dPanels.forEach((d) => {
    const gi = addGrid(d.left, d.top, d.width, d.height);
    xAxis.push(makeAxis(gi, { type: "category", data: dBarCats, showLabels: false, lineColor: "#8a8a8a", lineWidth: 1.5, tickLen: 5, position: "bottom" }));
    const xiBars = xAxis.length - 1;
    xAxis.push(makeAxis(gi, { type: "category", data: dGroups, showLine: false, showTick: false, rotate: 30, labelSize: 12, labelMargin: 9, position: "bottom" }));
    yAxis.push(makeAxis(gi, { min: 0, max: d.max, interval: d.max / 2, lineColor: "#8a8a8a", lineWidth: 1.5, labelMargin: 9, name: d.yName, nameGap: 20, nameSize: 11, nameRotate: 90 }));
    const yi = yAxis.length - 1;
    series.push({
      type: "bar", xAxisIndex: xiBars, yAxisIndex: yi, data: d.mean, barWidth: 15, silent: true, z: 2,
      itemStyle: { color: "#ffffff", borderColor: "#9a9a9a", borderWidth: 1.5 },
    });
    const errData = d.mean.map((m, i) => [i, m - d.sd[i], m + d.sd[i]]);
    series.push(errorBarSeries(xiBars, yi, errData, (i) => (i % 2 === 0 ? D_BASAL_COLORS[Math.floor(i / 2)] : D_PY_COLORS[Math.floor(i / 2)]), 7, 1.3));
    series.push(replicateSeries(xiBars, yi, d.reps));
    series.push(bracketSeries(xiBars, yi, d.brackets));
  });

  return {
    animation: false,
    backgroundColor: "#ffffff",
    textStyle: { fontFamily: FF },
    grid,
    xAxis,
    yAxis,
    series,
    graphic: { elements: graphic },
    legend: [
      {
        data: ["WT", "H1047R", "ΔCter", "M1043L"], orient: "vertical", left: 513, top: 843,
        icon: "circle", itemWidth: 19, itemHeight: 19, itemGap: 12, selectedMode: false,
        padding: [7, 10, 7, 7], borderColor: "#777", borderWidth: 1,
        textStyle: { fontSize: 14, fontFamily: FF, color: "#1a1a1a" },
      },
      {
        data: ["WT", "G1049R"], orient: "vertical", left: 1173, top: 508,
        icon: "circle", itemWidth: 18, itemHeight: 18, itemGap: 8, selectedMode: false, padding: 0,
        textStyle: { fontSize: 16, fontFamily: FF, color: "#1a1a1a" },
      },
    ],
  };
}

export default function App() {
  const ref = useRef<HTMLDivElement | null>(null);
  useEffect(() => {
    if (!ref.current) return;
    const chart = echarts.init(ref.current, undefined, { renderer: "svg" });
    chart.setOption(buildOption() as any);
    return () => {
      chart.dispose();
    };
  }, []);
  return (
    <div
      ref={ref}
      style={{ position: "fixed", left: 0, top: 0, width: 1257, height: 1044, background: "#fff" }}
    />
  );
}
